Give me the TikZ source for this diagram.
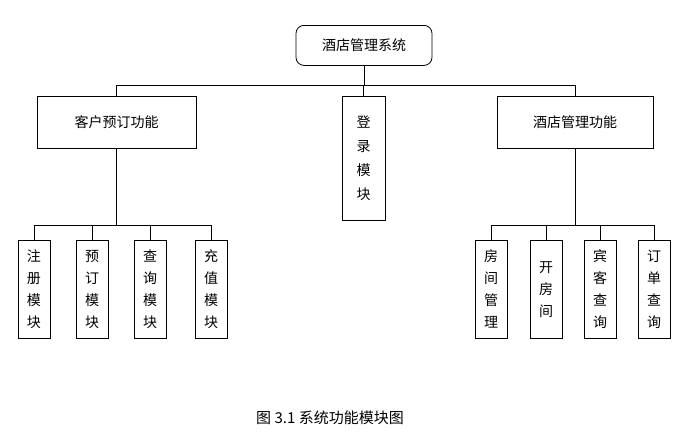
\documentclass[tikz,border=0pt]{standalone}
\usepackage{fontspec}
\newfontfamily\cjk{Noto Sans CJK SC}
\begin{document}
\begin{tikzpicture}[x=1pt,y=-1pt,font=\cjk\fontsize{14}{16}\selectfont,
  box/.style={draw,thick,minimum width=#1,inner sep=0pt,anchor=north},
  vbox/.style={draw,thick,minimum width=32,minimum height=98,anchor=north,align=center,inner sep=0pt,font=\cjk\fontsize{14}{22}\selectfont},
  ln/.style={thick}]
\useasboundingbox (0,0) rectangle (683,439);
\node[box=136,minimum height=40,rounded corners=8] (top) at (364,25) {酒店管理系统};
\node[box=159,minimum height=52] (cust) at (116.5,96) {客户预订功能};
\node[draw,thick,minimum width=43,minimum height=124,anchor=north,align=center,inner sep=0pt,font=\cjk\fontsize{14}{24}\selectfont] (login) at (363.5,96) {登\\录\\模\\块};
\node[box=156,minimum height=52] (hotel) at (575,96) {酒店管理功能};
\coordinate (hl) at (116.5,85);
\coordinate (hr) at (575,85);
\draw[ln] (top.south) -- (364,85);
\draw[ln] (hl) -- (hr);
\draw[ln] (hl) -- (cust.north);
\draw[ln] (hr) -- (hotel.north);
\draw[ln] (login.north) -- (363.5,85);
\node[vbox] (a1) at (34,240) {注\\册\\模\\块};
\node[vbox] (a2) at (92,240) {预\\订\\模\\块};
\node[vbox] (a3) at (150,240) {查\\询\\模\\块};
\node[vbox] (a4) at (211,240) {充\\值\\模\\块};
\node[vbox] (b1) at (491,240) {房\\间\\管\\理};
\node[vbox] (b2) at (546,240) {开\\房\\间};
\node[vbox] (b3) at (600,240) {宾\\客\\查\\询};
\node[vbox] (b4) at (654,240) {订\\单\\查\\询};
\draw[ln] (cust.south) -- (116.5,225);
\draw[ln] (a1.north) -- (34,225) -- (211,225) -- (a4.north);
\draw[ln] (a2.north) -- (92,225);
\draw[ln] (a3.north) -- (150,225);
\draw[ln] (hotel.south) -- (575,225);
\draw[ln] (b1.north) -- (491,225) -- (654,225) -- (b4.north);
\draw[ln] (b2.north) -- (546,225);
\draw[ln] (b3.north) -- (600,225);
\node[font=\cjk\fontsize{15}{17}\selectfont] (cap) at (330,418) {图 3.1 系统功能模块图};
\end{tikzpicture}
\end{document}
